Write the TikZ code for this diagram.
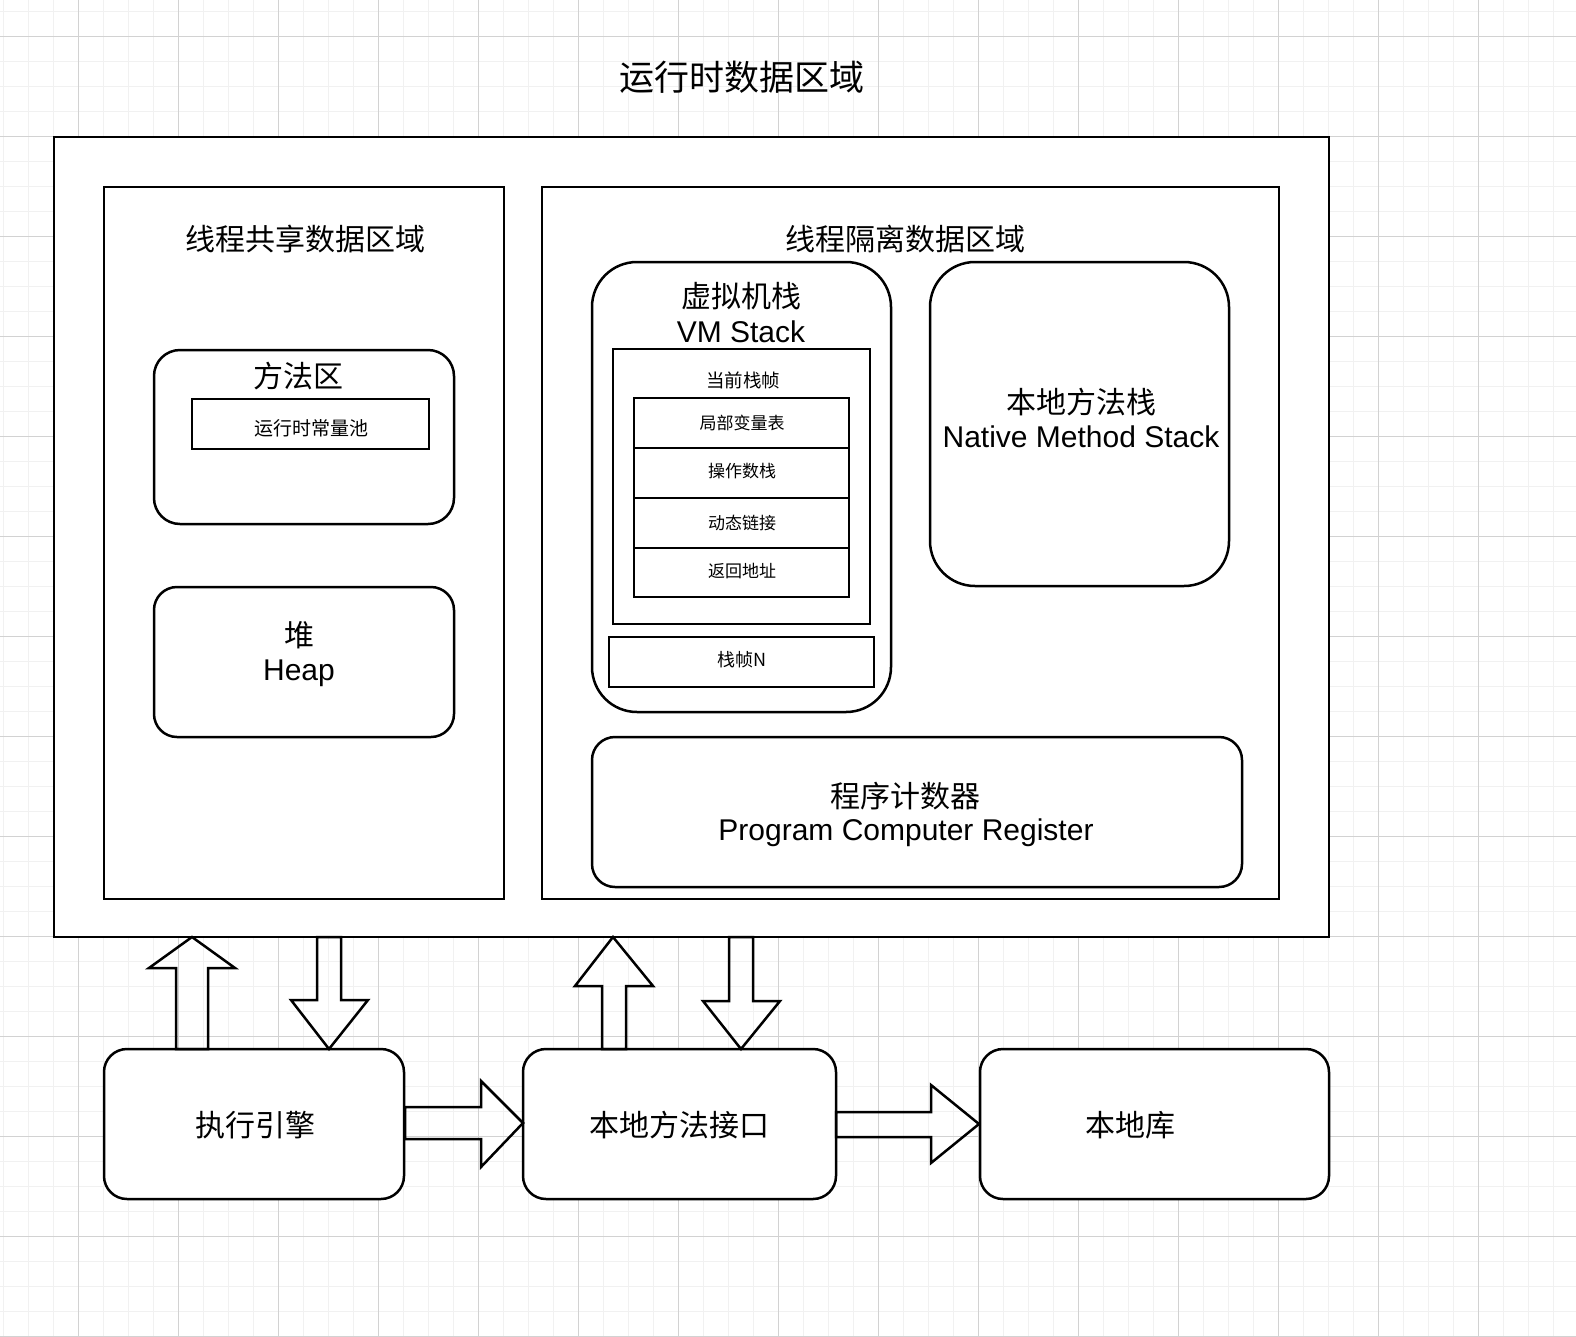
\documentclass[tikz,border=0pt]{standalone}
\usepackage{fontspec}
\setmainfont{Liberation Sans}
\newfontfamily\cjk{Noto Sans CJK SC}
\definecolor{gridminor}{HTML}{F1F1F1}
\definecolor{gridmajor}{HTML}{D2D2D2}
\begin{document}
\begin{tikzpicture}[x=1pt,y=-1pt,
  box/.style={draw=black, line width=2.5pt, fill=white, inner sep=0pt},
  rbox/.style={box, rounded corners=#1},
  blockarrow/.style={draw=black, line width=2.5pt, line join=miter},
  zh/.style={inner sep=0pt, font=\cjk\fontsize{#1pt}{#1pt}\selectfont},
  en/.style={inner sep=0pt, anchor=base, font=\fontsize{#1pt}{#1pt}\selectfont}
]
\useasboundingbox (0,0) rectangle (1576,1336);
\fill[white] (0,0) rectangle (1576,1336);
% grid
\foreach \x in {3,28,...,1576} \draw[gridminor, line width=1pt] (\x,0) -- (\x,1336);
\foreach \y in {11,36,...,1336} \draw[gridminor, line width=1pt] (0,\y) -- (1576,\y);
\foreach \x in {78,178,...,1576} \draw[gridmajor, line width=1pt] (\x,0) -- (\x,1336);
\foreach \y in {36,136,...,1336} \draw[gridmajor, line width=1pt] (0,\y) -- (1576,\y);

% title
\node[zh=35] (title) at (742,77) {运行时数据区域};

% outer containers
\node[box, minimum width=1275pt, minimum height=800pt] (outer) at (691.5,537) {};
\node[box, minimum width=400pt, minimum height=712pt] (shared) at (304,543) {};
\node[box, minimum width=737pt, minimum height=712pt] (iso) at (910.5,543) {};
\node[zh=30] (sharedt) at (305,239) {线程共享数据区域};
\node[zh=30] (isot) at (905,239) {线程隔离数据区域};

% method area
\node[rbox=26pt, minimum width=300pt, minimum height=174pt] (method) at (304,437) {};
\node[zh=30] (methodt) at (298,376) {方法区};
\node[box, minimum width=237pt, minimum height=50pt] (pool) at (310.5,424) {};
\node[zh=19] (poolt) at (311,428) {运行时常量池};

% heap
\node[rbox=23pt, minimum width=300pt, minimum height=150pt] (heap) at (304,662) {};
\node[zh=30] (heapzh) at (299,635) {堆};
\node[en=30] (heapen) at (299,680) {Heap};

% VM stack
\node[rbox=45pt, minimum width=299pt, minimum height=450pt] (vm) at (741.5,487) {};
\node[zh=30] (vmzh) at (741,296) {虚拟机栈};
\node[en=30] (vmen) at (741,342) {VM Stack};
\node[box, minimum width=257pt, minimum height=275pt] (cur) at (741.5,486.5) {};
\node[zh=18.5] (curt) at (743,380) {当前栈帧};
\node[box, minimum width=215pt, minimum height=50pt] (r1) at (741.5,423) {};
\node[box, minimum width=215pt, minimum height=50pt] (r2) at (741.5,473) {};
\node[box, minimum width=215pt, minimum height=50pt] (r3) at (741.5,523) {};
\node[box, minimum width=215pt, minimum height=49pt] (r4) at (741.5,572.5) {};
\node[zh=17] (r1t) at (742,423) {局部变量表};
\node[zh=17] (r2t) at (742,471) {操作数栈};
\node[zh=17] (r3t) at (742,523) {动态链接};
\node[zh=17] (r4t) at (742,571) {返回地址};
\node[box, minimum width=265pt, minimum height=50pt] (frameN) at (741.5,662) {};
\node[zh=18] (frameNt) at (741.5,660) {栈帧N};

% native method stack
\node[rbox=45pt, minimum width=299pt, minimum height=324pt] (native) at (1079.5,424) {};
\node[zh=30] (nativezh) at (1081,402) {本地方法栈};
\node[en=30] (nativeen) at (1081,447) {Native Method Stack};

% program counter
\node[rbox=23pt, minimum width=650pt, minimum height=150pt] (pc) at (917,812) {};
\node[zh=30] (pczh) at (905,796) {程序计数器};
\node[en=30] (pcen) at (906,840) {Program Computer Register};

% bottom boxes
\node[rbox=23pt, minimum width=300pt, minimum height=150pt] (exec) at (254,1124) {};
\node[zh=30] (exect) at (255,1125) {执行引擎};
\node[rbox=23pt, minimum width=313pt, minimum height=150pt] (jni) at (679.5,1124) {};
\node[zh=30] (jnit) at (679,1125) {本地方法接口};
\node[rbox=23pt, minimum width=349pt, minimum height=150pt] (lib) at (1154.5,1124) {};
\node[zh=30] (libt) at (1130,1125) {本地库};

% block arrows
\draw[blockarrow] (192,937) -- (235,968) -- (208,968) -- (208,1049) -- (176,1049) -- (176,968) -- (149,968) -- cycle;
\draw[blockarrow] (317,937) -- (341,937) -- (341,1000) -- (368,1000) -- (329,1049) -- (291,1000) -- (317,1000) -- cycle;
\draw[blockarrow] (613,937) -- (653,986) -- (626,986) -- (626,1049) -- (602,1049) -- (602,986) -- (575,986) -- cycle;
\draw[blockarrow] (729,937) -- (753,937) -- (753,1001) -- (780,1001) -- (741,1049) -- (703,1001) -- (729,1001) -- cycle;
\draw[blockarrow] (405,1107) -- (481,1107) -- (481,1081) -- (523,1123) -- (481,1167) -- (481,1139) -- (405,1139) -- cycle;
\draw[blockarrow] (836,1112) -- (931,1112) -- (931,1085) -- (979,1124) -- (931,1163) -- (931,1137) -- (836,1137) -- cycle;
\end{tikzpicture}
\end{document}
